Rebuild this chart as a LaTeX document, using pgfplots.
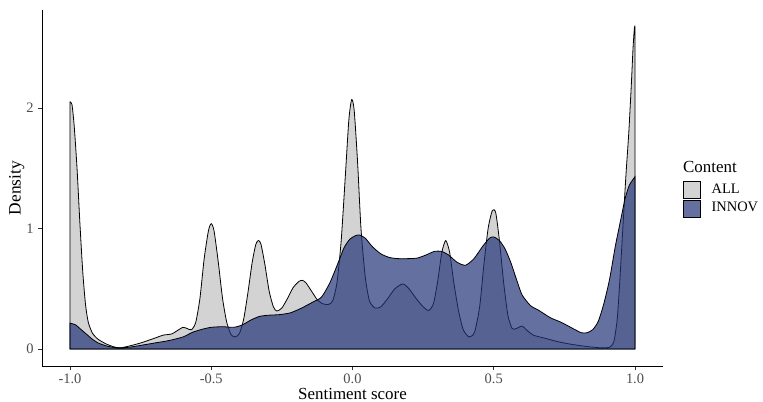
\documentclass[border=0pt]{standalone}
\usepackage{fontspec}
\setmainfont{Liberation Serif}
\usepackage{pgfplots}
\pgfplotsset{compat=1.18}

\definecolor{allfill}{RGB}{211,211,211}
\definecolor{innovfill}{RGB}{33,51,119}
\definecolor{ticktext}{RGB}{77,77,77}
\definecolor{tickline}{RGB}{51,51,51}

% density estimates
\pgfplotstableread{
x y
-1.000 2.05
-0.993 2.03
-0.985 1.85
-0.975 1.50
-0.965 1.05
-0.955 0.65
-0.945 0.37
-0.935 0.22
-0.920 0.13
-0.900 0.08
-0.870 0.04
-0.840 0.015
-0.820 0.01
-0.790 0.025
-0.750 0.05
-0.700 0.09
-0.670 0.115
-0.640 0.125
-0.615 0.16
-0.600 0.18
-0.585 0.17
-0.570 0.16
-0.555 0.22
-0.540 0.42
-0.525 0.75
-0.510 0.98
-0.500 1.04
-0.490 0.98
-0.475 0.72
-0.460 0.42
-0.445 0.22
-0.430 0.12
-0.415 0.10
-0.400 0.13
-0.385 0.25
-0.370 0.47
-0.355 0.72
-0.342 0.87
-0.333 0.90
-0.324 0.87
-0.310 0.70
-0.295 0.48
-0.280 0.35
-0.268 0.315
-0.250 0.34
-0.230 0.42
-0.210 0.51
-0.190 0.56
-0.178 0.57
-0.165 0.55
-0.145 0.48
-0.125 0.41
-0.105 0.375
-0.085 0.37
-0.070 0.40
-0.055 0.55
-0.040 0.90
-0.025 1.45
-0.013 1.90
-0.003 2.07
0.006 1.98
0.018 1.55
0.030 1.00
0.045 0.60
0.060 0.40
0.080 0.34
0.100 0.35
0.125 0.42
0.150 0.50
0.178 0.54
0.200 0.50
0.225 0.42
0.250 0.35
0.270 0.32
0.287 0.38
0.302 0.57
0.316 0.80
0.330 0.90
0.344 0.80
0.358 0.56
0.375 0.32
0.392 0.16
0.413 0.10
0.432 0.14
0.450 0.35
0.465 0.70
0.480 1.00
0.495 1.15
0.507 1.13
0.520 0.90
0.535 0.55
0.550 0.28
0.565 0.17
0.580 0.17
0.600 0.19
0.620 0.15
0.640 0.115
0.680 0.09
0.720 0.065
0.760 0.045
0.800 0.03
0.840 0.018
0.880 0.01
0.910 0.015
0.925 0.06
0.937 0.25
0.947 0.60
0.958 1.05
0.968 1.45
0.978 1.80
0.987 2.20
0.993 2.50
0.998 2.67
1.000 2.67
}\allsent

\pgfplotstableread{
x y
-1.000 0.215
-0.980 0.20
-0.960 0.16
-0.940 0.12
-0.920 0.08
-0.900 0.05
-0.870 0.025
-0.840 0.012
-0.820 0.01
-0.790 0.015
-0.750 0.03
-0.700 0.05
-0.650 0.07
-0.600 0.10
-0.565 0.14
-0.530 0.165
-0.500 0.18
-0.460 0.185
-0.420 0.18
-0.390 0.20
-0.360 0.24
-0.330 0.27
-0.300 0.28
-0.260 0.285
-0.220 0.30
-0.180 0.34
-0.140 0.39
-0.110 0.43
-0.080 0.55
-0.050 0.72
-0.030 0.84
-0.010 0.91
0.010 0.94
0.025 0.946
0.045 0.92
0.070 0.85
0.100 0.79
0.130 0.76
0.160 0.75
0.200 0.75
0.230 0.755
0.260 0.78
0.290 0.81
0.315 0.81
0.340 0.78
0.370 0.72
0.400 0.695
0.430 0.75
0.460 0.85
0.485 0.92
0.500 0.93
0.520 0.90
0.540 0.83
0.560 0.72
0.580 0.58
0.600 0.45
0.630 0.36
0.660 0.32
0.700 0.26
0.740 0.22
0.780 0.17
0.810 0.135
0.830 0.135
0.850 0.16
0.870 0.23
0.890 0.38
0.910 0.58
0.930 0.85
0.950 1.08
0.965 1.25
0.980 1.36
1.000 1.43
}\innovsent

\begin{document}
\begin{tikzpicture}
\useasboundingbox (0,0) rectangle (763bp,402bp);
\begin{axis}[
    at={(42bp,36bp)}, anchor=south west,
    scale only axis,
    width=621bp, height=356bp,
    xmin=-1.099, xmax=1.099,
    ymin=-0.141, ymax=2.813,
    axis lines=left,
    axis line style={-, black, line width=0.9bp},
    tick style={tickline, line width=0.9bp},
    tick align=outside,
    major tick length=4bp,
    xtick={-1,-0.5,0,0.5,1},
    xticklabels={-1.0,-0.5,0.0,0.5,1.0},
    ytick={0,1,2},
    yticklabels={0,1,2},
    ticklabel style={font=\fontsize{14.5}{16}\selectfont, text=ticktext},
    xticklabel style={inner ysep=0.5bp, text depth=0pt, yshift=-2.8bp},
    yticklabel style={xshift=-1bp},
    xlabel={Sentiment score},
    ylabel={Density},
    label style={font=\fontsize{17.5}{20}\selectfont},
    xlabel style={font=\fontsize{17}{19}\selectfont, at={(axis description cs:0.5,0)}, anchor=base, yshift=-33.5bp,
        inner sep=0pt, text depth=0pt},
    ylabel style={yshift=-5bp},
    clip=false,
    legend cell align=left,
    legend style={at={(1.0322,0.5197)}, anchor=north west, draw=none, fill=none,
        inner sep=0pt, outer sep=0pt, row sep=1bp,
        font=\fontsize{14.5}{16}\selectfont,
        nodes={inner sep=0pt, text height=11bp, text depth=4bp},
        /tikz/column 1/.style={column sep=11bp}},
    legend image code/.code={\draw[#1, draw=black, line width=0.6bp] (0bp,-8.5bp) rectangle (17bp,8.5bp);},
]
\addplot[fill=allfill, draw=black, line width=0.8bp, smooth, tension=0.4] table {\allsent} \closedcycle;
\addlegendentry{ALL}
\addplot[fill=innovfill, fill opacity=0.7, draw=black, line width=0.8bp, smooth, tension=0.4] table {\innovsent} \closedcycle;
\addlegendentry{INNOV}
\node[anchor=base west, font=\fontsize{17}{19}\selectfont, inner sep=0pt] at (rel axis cs:1.0322,0.5449) {Content};
\end{axis}
\end{tikzpicture}
\end{document}
